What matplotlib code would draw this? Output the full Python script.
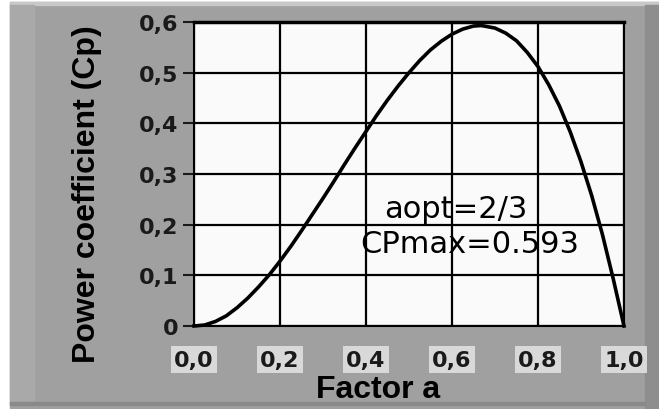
import matplotlib
matplotlib.use('Agg')
from matplotlib import pyplot as plt
from matplotlib.patches import Rectangle

# values
factor_a = [0.0, 0.025, 0.05, 0.075, 0.1, 0.125, 0.15, 0.175, 0.2, 0.225, 0.25,
            0.275, 0.3, 0.325, 0.35, 0.375, 0.4, 0.425, 0.45, 0.475, 0.5,
            0.525, 0.55, 0.575, 0.6, 0.625, 0.65, 0.667, 0.675, 0.7, 0.725, 0.75,
            0.775, 0.8, 0.825, 0.85, 0.875, 0.9, 0.925, 0.95, 0.975, 1.0]
cp = [0.0, 0.002, 0.009, 0.02, 0.036, 0.055, 0.077, 0.101, 0.128, 0.157, 0.188,
      0.22, 0.252, 0.285, 0.319, 0.352, 0.384, 0.416, 0.446, 0.474, 0.5,
      0.524, 0.545, 0.562, 0.576, 0.586, 0.592, 0.593, 0.592, 0.588, 0.578, 0.563,
      0.54, 0.512, 0.476, 0.434, 0.383, 0.324, 0.257, 0.18, 0.093, 0.0]
x_ticks = [0.0, 0.2, 0.4, 0.6, 0.8, 1.0]
x_labels = ['0,0', '0,2', '0,4', '0,6', '0,8', '1,0']
y_ticks = [0.0, 0.1, 0.2, 0.3, 0.4, 0.5, 0.6]
y_labels = ['0', '0,1', '0,2', '0,3', '0,4', '0,5', '0,6']

W, H = 659, 410
fig = plt.figure(figsize=(W / 100, H / 100), dpi=100, facecolor='white')

# grey LabVIEW-style panel with bevel
def px_rect(x0, y0, x1, y1, color):
    fig.patches.append(Rectangle((x0 / W, 1 - y1 / H), (x1 - x0) / W, (y1 - y0) / H,
                                 transform=fig.transFigure, color=color, zorder=-5))

px_rect(10, 3, 659, 410, '#a0a0a0')
px_rect(10, 3, 659, 6, '#c8c8c8')
px_rect(10, 6, 34, 405, '#a9a9a9')
px_rect(645, 6, 659, 410, '#8e8e8e')
px_rect(10, 403, 645, 406, '#8a8a8a')

ax = fig.add_axes([194 / W, 1 - 327 / H, 430 / W, 304 / H])
ax.set_zorder(2)
ax.set_facecolor('#fafafa')
ax.plot(factor_a, cp, color='black', lw=2.6, zorder=3, clip_on=False)

ax.set_xlim(0, 1)
ax.set_ylim(0, 0.6)
ax.set_xticks(x_ticks)
ax.set_yticks(y_ticks)
ax.set_xticklabels(x_labels, fontsize=16, fontweight='bold')
ax.set_yticklabels(y_labels, fontsize=16, fontweight='bold')
ax.grid(True, color='black', lw=1.6)
ax.tick_params(axis='x', length=0, pad=17, colors='#1a1a1a')
ax.tick_params(axis='y', length=8, width=1.5, pad=3, colors='#1a1a1a')
for lbl in ax.get_xticklabels():
    lbl.set_bbox(dict(facecolor='#d9d9d9', edgecolor='none', pad=2.5))
for side in ax.spines.values():
    side.set_linewidth(1.5)
ax.spines['top'].set_linewidth(2.5)

ax.text(0.61, 0.231, 'aopt=2/3', fontsize=22, ha='center', va='center', zorder=4)
ax.text(0.642, 0.162, 'CPmax=0.593', fontsize=22, ha='center', va='center', zorder=4)

fig.text(378 / W, 1 - 390 / H, 'Factor a', fontsize=23, fontweight='bold',
         family='Liberation Sans', ha='center', va='center')
fig.text(87 / W, 1 - 194 / H, 'Power coefficient (Cp)', fontsize=23, fontweight='bold',
         family='Liberation Sans', rotation=90, ha='center', va='center')

fig.savefig('out.png', dpi=100, facecolor=fig.get_facecolor())
